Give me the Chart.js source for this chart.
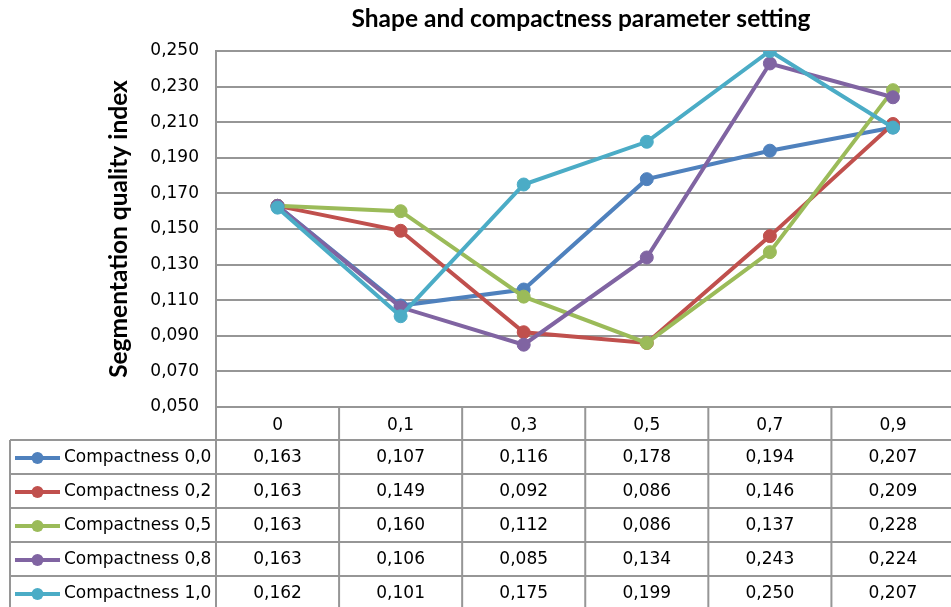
<!DOCTYPE html>
<html>
<head>
<meta charset="utf-8">
<script src="https://cdn.jsdelivr.net/npm/chart.js@4/dist/chart.umd.min.js"></script>
<style>
  html, body { margin: 0; padding: 0; background: #fff; overflow: hidden; }
  #wrap { position: relative; width: 962px; height: 607px; }
</style>
</head>
<body>
<div id="wrap"><canvas id="c" width="962" height="607"></canvas></div>
<script>
// Shape parameter values (x categories)
const shapeLabels = ['0', '0,1', '0,3', '0,5', '0,7', '0,9'];

// Series names
const seriesNames = ['Compactness 0,0', 'Compactness 0,2', 'Compactness 0,5', 'Compactness 0,8', 'Compactness 1,0'];

// Segmentation quality index per compactness setting
const compact00 = [0.163, 0.107, 0.116, 0.178, 0.194, 0.207];
const compact02 = [0.163, 0.149, 0.092, 0.086, 0.146, 0.209];
const compact05 = [0.163, 0.160, 0.112, 0.086, 0.137, 0.228];
const compact08 = [0.163, 0.106, 0.085, 0.134, 0.243, 0.224];
const compact10 = [0.162, 0.101, 0.175, 0.199, 0.250, 0.207];

// Y axis range and step
const yMin = 0.05, yMax = 0.25, yStep = 0.02;

const seriesColors = ['#4F81BD', '#C0504D', '#9BBB59', '#8064A2', '#4BACC6'];
const seriesValues = [compact00, compact02, compact05, compact08, compact10];

const gridColor = '#969696';
const textFont = '"DejaVu Sans", Verdana, sans-serif';
const textSize = 17;
const fmt = v => v.toFixed(3).replace('.', ',');

const datasets = seriesValues.map((vals, i) => ({
  label: seriesNames[i],
  data: vals,
  borderColor: seriesColors[i],
  backgroundColor: seriesColors[i],
  pointBackgroundColor: seriesColors[i],
  pointBorderColor: seriesColors[i],
  borderWidth: 4,
  pointRadius: 6.5,
  pointBorderWidth: 1,
  tension: 0,
  order: seriesValues.length - i
}));

// Chart title, drawn centered over the plot
const titlePlugin = {
  id: 'plotTitle',
  afterDraw(chart) {
    const ctx = chart.ctx;
    ctx.save();
    ctx.font = 'bold 24.5px Lato, sans-serif';
    ctx.fillStyle = '#000';
    ctx.textAlign = 'center';
    ctx.textBaseline = 'middle';
    ctx.fillText('Shape and compactness parameter setting', 581, 19);
    ctx.restore();
  }
};

// Data table under the plot: legend keys and values per category
const tablePlugin = {
  id: 'dataTable',
  afterDraw(chart) {
    const ctx = chart.ctx;
    const xs = chart.scales.x;
    const area = chart.chartArea;
    const half = (xs.getPixelForValue(1) - xs.getPixelForValue(0)) / 2;
    const headerBottom = area.bottom + 33;
    const rowH = 34;
    const tableLeft = 10;
    const tableRight = chart.width;
    const nRows = seriesNames.length;
    const tableBottom = headerBottom + rowH * nRows;

    ctx.save();
    ctx.strokeStyle = gridColor;
    ctx.lineWidth = 2;
    ctx.beginPath();
    // column separators
    for (let i = 0; i <= shapeLabels.length; i++) {
      const x = (i < shapeLabels.length ? xs.getPixelForValue(i) : xs.getPixelForValue(i - 1) + 2 * half) - half;
      ctx.moveTo(x, area.bottom);
      ctx.lineTo(x, tableBottom);
    }
    // left border of the legend column
    ctx.moveTo(tableLeft, headerBottom);
    ctx.lineTo(tableLeft, tableBottom);
    // row separators
    for (let r = 0; r <= nRows; r++) {
      const y = headerBottom + r * rowH;
      ctx.moveTo(tableLeft, y);
      ctx.lineTo(tableRight, y);
    }
    ctx.stroke();

    ctx.font = textSize + 'px ' + textFont;
    ctx.textBaseline = 'middle';
    for (let r = 0; r < nRows; r++) {
      const cy = headerBottom + r * rowH + rowH / 2 + 1;
      // legend key
      ctx.strokeStyle = seriesColors[r];
      ctx.lineWidth = 4;
      ctx.beginPath();
      ctx.moveTo(15, cy);
      ctx.lineTo(60, cy);
      ctx.stroke();
      ctx.fillStyle = seriesColors[r];
      ctx.beginPath();
      ctx.arc(37.5, cy, 6, 0, Math.PI * 2);
      ctx.fill();
      ctx.fillStyle = '#000';
      ctx.textAlign = 'left';
      ctx.fillText(seriesNames[r], 64, cy);
      // values
      ctx.textAlign = 'center';
      seriesValues[r].forEach((v, i) => {
        ctx.fillText(fmt(v), xs.getPixelForValue(i), cy);
      });
    }
    ctx.restore();
  }
};

new Chart(document.getElementById('c'), {
  type: 'line',
  data: { labels: shapeLabels, datasets },
  options: {
    responsive: false,
    animation: false,
    layout: { padding: { left: 100, top: 51, right: 0, bottom: 0 } },
    plugins: {
      legend: { display: false },
      title: { display: false },
      tooltip: { enabled: false }
    },
    scales: {
      x: {
        offset: true,
        grid: { display: false, drawTicks: false },
        border: { display: true, color: gridColor, width: 2 },
        ticks: {
          color: '#000',
          padding: 8,
          font: { family: textFont, size: textSize },
          maxRotation: 0
        },
        afterFit(scale) { scale.height = 200; }
      },
      y: {
        min: yMin,
        max: yMax,
        grid: { color: gridColor, lineWidth: 2, drawTicks: false },
        border: { display: true, color: gridColor, width: 2 },
        ticks: {
          stepSize: yStep,
          color: '#000',
          padding: 17,
          font: { family: textFont, size: textSize },
          callback: v => fmt(v)
        },
        title: {
          display: true,
          text: 'Segmentation quality index',
          color: '#000',
          font: { family: 'Lato, sans-serif', size: 24.5, weight: 'bold' },
          padding: { top: 4, bottom: 0 }
        },
        afterFit(scale) { scale.width = 116; }
      }
    }
  },
  plugins: [titlePlugin, tablePlugin]
});
</script>
</body>
</html>
